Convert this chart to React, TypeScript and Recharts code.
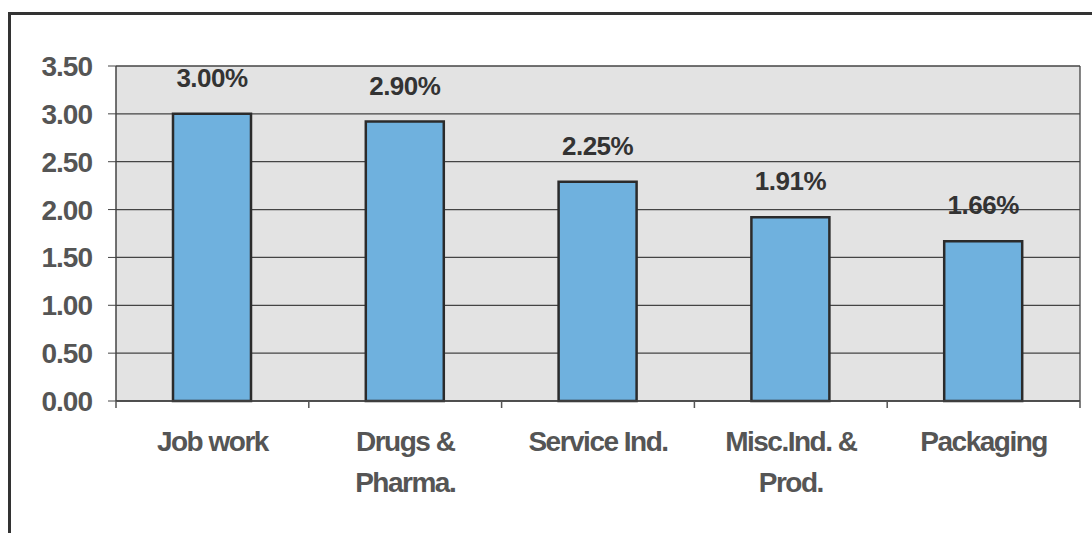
import { BarChart, Bar, XAxis, YAxis, CartesianGrid, LabelList } from "recharts";

const categories = [["Job work"], ["Drugs &", "Pharma."], ["Service Ind."], ["Misc.Ind. &", "Prod."], ["Packaging"]];
const values = [3.0, 2.92, 2.29, 1.92, 1.67];
const valueLabels = ["3.00%", "2.90%", "2.25%", "1.91%", "1.66%"];
const yTicks = [0, 0.5, 1, 1.5, 2, 2.5, 3, 3.5];

const data = categories.map((lines, i) => ({
  name: lines.join(" "),
  value: values[i],
  label: valueLabels[i],
}));

const W = 1092;
const H = 533;
const LEFT = 116;
const RIGHT = 12;
const BAND = (W - LEFT - RIGHT) / categories.length;
const FONT = "'Liberation Sans', Arial, sans-serif";

function CategoryTick(props: any) {
  const { x, y, index } = props;
  const lines = categories[index] || [];
  const left = x - BAND / 2;
  return (
    <g>
      <line x1={left} y1={y} x2={left} y2={y + 7} stroke="#555" strokeWidth={1.5} />
      {index === categories.length - 1 && (
        <line x1={x + BAND / 2} y1={y} x2={x + BAND / 2} y2={y + 7} stroke="#555" strokeWidth={1.5} />
      )}
      {lines.map((t, i) => (
        <text
          key={i}
          x={x}
          y={y + 50 + i * 41}
          textAnchor="middle"
          fill="#555"
          fontFamily={FONT}
          fontWeight="bold"
          fontSize={28}
          letterSpacing={-1.5}
        >
          {t}
        </text>
      ))}
    </g>
  );
}

export default function App() {
  return (
    <div style={{ position: "absolute", left: 0, top: 0, width: W, height: H, overflow: "hidden", background: "#fff" }}>
      <div
        style={{
          position: "absolute",
          left: 8,
          top: 12,
          width: W + 20,
          height: H + 20,
          border: "3px solid #333",
          boxSizing: "border-box",
        }}
      />
      <div style={{ position: "absolute", left: 0, top: 0 }}>
        <BarChart width={W} height={H} data={data} margin={{ top: 66, right: RIGHT, left: 0, bottom: 2 }} barSize={78}>
          <CartesianGrid
            stroke="#444"
            strokeWidth={1.3}
            fill="#e3e3e3"
            fillOpacity={1}
            verticalCoordinatesGenerator={({ offset }: any) => [offset.left + offset.width]}
          />
          <XAxis
            dataKey="name"
            height={130}
            tickSize={0}
            tickMargin={0}
            interval={0}
            stroke="#444"
            axisLine={{ stroke: "#444", strokeWidth: 1.5 }}
            tick={<CategoryTick />}
          />
          <YAxis
            width={LEFT}
            domain={[0, 3.5]}
            ticks={yTicks}
            interval={0}
            tickFormatter={(v: number) => v.toFixed(2)}
            tickSize={8}
            tickMargin={16}
            stroke="#444"
            axisLine={{ stroke: "#444", strokeWidth: 1.5 }}
            tick={{ fill: "#555", fontSize: 28, fontWeight: "bold", fontFamily: FONT, letterSpacing: -1 }}
          />
          <Bar dataKey="value" fill="#6fb1de" stroke="#2b2b2b" strokeWidth={2.5} isAnimationActive={false}>
            <LabelList
              dataKey="label"
              position="top"
              offset={27}
              fill="#333"
              fontSize={26}
              fontWeight="bold"
              fontFamily={FONT}
              letterSpacing={-0.5}
            />
          </Bar>
        </BarChart>
      </div>
    </div>
  );
}
